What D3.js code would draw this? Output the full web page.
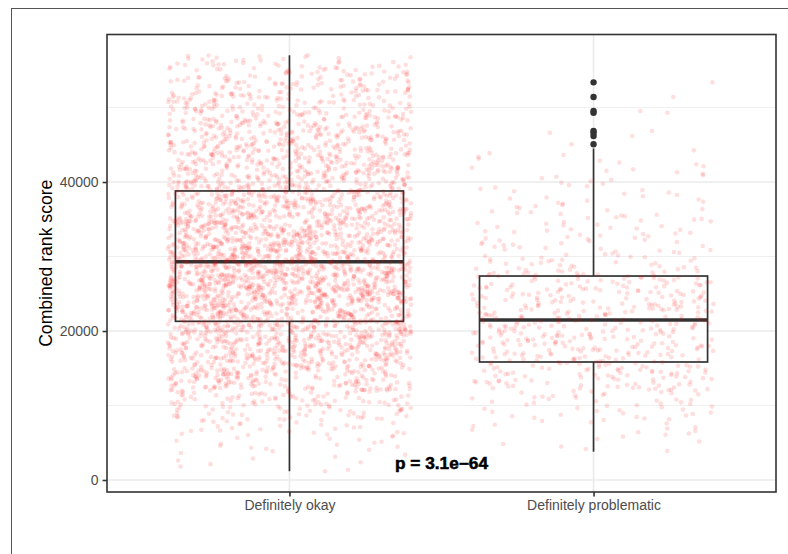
<!DOCTYPE html>
<html>
<head>
<meta charset="utf-8">
<script src="https://cdn.jsdelivr.net/npm/d3@7"></script>
<style>
  html, body { margin: 0; padding: 0; background: #ffffff; }
  svg { display: block; }
</style>
</head>
<body>
<svg id="chart" width="788" height="554"></svg>
<script>
// ---- data ---------------------------------------------------------------
const categories = ["Definitely okay", "Definitely problematic"];

// lower edge of each 2000-wide score bin
const binStarts = [0, 2000, 4000, 6000, 8000, 10000, 12000, 14000, 16000, 18000,
  20000, 22000, 24000, 26000, 28000, 30000, 32000, 34000, 36000, 38000,
  40000, 42000, 44000, 46000, 48000, 50000, 52000, 54000, 56000];
const binWidth = 2000;

// number of individual scores per bin
const okayCounts = [2, 8, 15, 26, 50, 70, 110, 128, 155, 168,
  182, 192, 220, 222, 208, 200, 182, 175, 158, 148,
  130, 125, 113, 108, 90, 80, 68, 51, 17];
const problematicCounts = [0, 1, 6, 12, 20, 26, 46, 52, 58, 59,
  59, 58, 54, 50, 30, 22, 21, 18, 14, 12,
  10, 8, 1, 0, 0, 0, 0, 0, 0];
const problematicOutliers = [45060, 46170, 46620, 46850, 49300, 49530, 51410, 53380];

// five-number summaries, one entry per category
const whiskerLow  = [1180, 3800];
const quartile1   = [21300, 15840];
const medians     = [29300, 21480];
const quartile3   = [38800, 27380];
const whiskerHigh = [57010, 44500];

const yTicks = [0, 20000, 40000];
const yMinorTicks = [10000, 30000, 50000];
const yTitle = "Combined rank score";
const pValueLabel = "p = 3.1e\u221264";

// ---- layout -------------------------------------------------------------
const panel = { left: 107, top: 34.5, right: 776, bottom: 492 };
const font = "'Liberation Sans', Arial, Helvetica, sans-serif";
const ink = "#333333";

const svg = d3.select("#chart");

// figure frame
svg.append("rect")
  .attr("x", 11.5).attr("y", 8.5)
  .attr("width", 900).attr("height", 700)
  .attr("fill", "none").attr("stroke", "#555555").attr("stroke-width", 1);

// ---- scales -------------------------------------------------------------
const dataMin = d3.min(whiskerLow);
const dataMax = d3.max([...whiskerHigh, ...problematicOutliers]);
const pad = (dataMax - dataMin) * 0.05;
const y = d3.scaleLinear()
  .domain([dataMin - pad, dataMax + pad])
  .range([panel.bottom, panel.top]);

const x = d3.scalePoint()
  .domain(categories)
  .range([panel.left, panel.right])
  .padding(0.6);
const step = x.step();

// ---- panel background & grid -------------------------------------------
svg.append("rect")
  .attr("x", panel.left).attr("y", panel.top)
  .attr("width", panel.right - panel.left).attr("height", panel.bottom - panel.top)
  .attr("fill", "#ffffff");

const grid = svg.append("g");
grid.selectAll("line.minor")
  .data(yMinorTicks).join("line")
  .attr("x1", panel.left).attr("x2", panel.right)
  .attr("y1", d => y(d)).attr("y2", d => y(d))
  .attr("stroke", "#ebebeb").attr("stroke-width", 0.8);
grid.selectAll("line.major")
  .data(yTicks).join("line")
  .attr("x1", panel.left).attr("x2", panel.right)
  .attr("y1", d => y(d)).attr("y2", d => y(d))
  .attr("stroke", "#ebebeb").attr("stroke-width", 1.6);
grid.selectAll("line.vmajor")
  .data(categories).join("line")
  .attr("x1", d => x(d)).attr("x2", d => x(d))
  .attr("y1", panel.top).attr("y2", panel.bottom)
  .attr("stroke", "#ebebeb").attr("stroke-width", 1.6);

// ---- boxplots -----------------------------------------------------------
const boxW = 0.75 * step;
const boxes = svg.append("g");
categories.forEach((cat, i) => {
  const cx = x(cat);
  const g = boxes.append("g");
  // whiskers
  g.append("line")
    .attr("x1", cx).attr("x2", cx)
    .attr("y1", y(quartile3[i])).attr("y2", y(whiskerHigh[i]))
    .attr("stroke", ink).attr("stroke-width", 1.7);
  g.append("line")
    .attr("x1", cx).attr("x2", cx)
    .attr("y1", y(quartile1[i])).attr("y2", y(whiskerLow[i]))
    .attr("stroke", ink).attr("stroke-width", 1.7);
  // box
  g.append("rect")
    .attr("x", cx - boxW / 2).attr("width", boxW)
    .attr("y", y(quartile3[i])).attr("height", y(quartile1[i]) - y(quartile3[i]))
    .attr("fill", "#ffffff").attr("stroke", ink).attr("stroke-width", 1.7);
  // median
  g.append("line")
    .attr("x1", cx - boxW / 2).attr("x2", cx + boxW / 2)
    .attr("y1", y(medians[i])).attr("y2", y(medians[i]))
    .attr("stroke", ink).attr("stroke-width", 3.6);
});

// outliers
boxes.selectAll("circle.outlier")
  .data(problematicOutliers).join("circle")
  .attr("cx", x(categories[1]))
  .attr("cy", d => y(d))
  .attr("r", 3.2)
  .attr("fill", ink);

// ---- jittered scores ----------------------------------------------------
function scoresFromBins(counts, lo, hi, extra) {
  const values = [];
  counts.forEach((n, b) => {
    const a = Math.max(binStarts[b], lo);
    const z = Math.min(binStarts[b] + binWidth, hi);
    for (let k = 0; k < n; k++) values.push(a + (k + 0.5) / n * (z - a));
  });
  return values.concat(extra);
}

const groups = [
  scoresFromBins(okayCounts, whiskerLow[0], whiskerHigh[0], [whiskerLow[0], whiskerHigh[0]]),
  scoresFromBins(problematicCounts, whiskerLow[1], whiskerHigh[1], problematicOutliers)
];

const jitter = d3.randomUniform.source(d3.randomLcg(0.4242))(-0.4, 0.4);
const points = [];
groups.forEach((vals, i) => {
  vals.forEach(v => points.push({ cat: categories[i], v, dx: jitter() }));
});
// draw in shuffled order so neighbouring bins interleave
d3.shuffler(d3.randomLcg(0.77))(points);

svg.append("g")
  .selectAll("circle")
  .data(points).join("circle")
  .attr("cx", d => x(d.cat) + d.dx * step)
  .attr("cy", d => y(d.v))
  .attr("r", 2.3)
  .attr("fill", "#ff0000")
  .attr("fill-opacity", 0.13);

// ---- p-value ------------------------------------------------------------
svg.append("text")
  .attr("x", (x(categories[0]) + x(categories[1])) / 2)
  .attr("y", 469)
  .attr("text-anchor", "middle")
  .attr("font-family", font)
  .attr("font-weight", "bold")
  .attr("font-size", 16)
  .attr("textLength", 93)
  .attr("lengthAdjust", "spacingAndGlyphs")
  .attr("fill", "#000000")
  .attr("stroke", "#000000")
  .attr("stroke-width", 0.5)
  .text(pValueLabel);

// ---- panel border & axes ------------------------------------------------
svg.append("rect")
  .attr("x", panel.left).attr("y", panel.top)
  .attr("width", panel.right - panel.left).attr("height", panel.bottom - panel.top)
  .attr("fill", "none").attr("stroke", ink).attr("stroke-width", 1.6);

const yAxis = svg.append("g")
  .attr("transform", `translate(${panel.left},0)`)
  .call(d3.axisLeft(y).tickValues(yTicks).tickFormat(d3.format("d"))
    .tickSize(4.4).tickPadding(4));
yAxis.select(".domain").remove();
yAxis.selectAll(".tick line").attr("stroke", ink).attr("stroke-width", 1.6);
yAxis.selectAll(".tick text")
  .attr("font-family", font).attr("font-size", 14).attr("fill", "#4d4d4d");

const xAxis = svg.append("g")
  .attr("transform", `translate(0,${panel.bottom})`)
  .call(d3.axisBottom(x).tickSize(4.4).tickPadding(4));
xAxis.select(".domain").remove();
xAxis.selectAll(".tick line").attr("stroke", ink).attr("stroke-width", 1.6);
xAxis.selectAll(".tick text")
  .attr("font-family", font).attr("font-size", 14).attr("fill", "#4d4d4d");

svg.append("text")
  .attr("transform", `translate(52,${(panel.top + panel.bottom) / 2}) rotate(-90)`)
  .attr("text-anchor", "middle")
  .attr("font-family", font)
  .attr("font-size", 17.6)
  .attr("fill", "#000000")
  .text(yTitle);
</script>
</body>
</html>
